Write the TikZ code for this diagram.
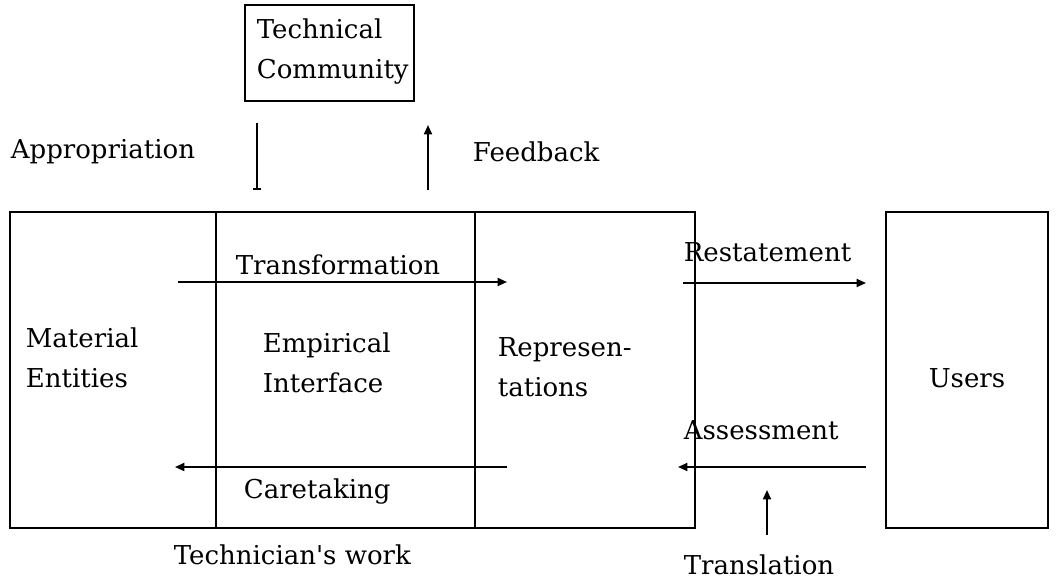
\documentclass[tikz,border=0pt]{standalone}
\usepackage{fontspec}
\setmainfont{DejaVu Serif}
\usetikzlibrary{positioning, arrows.meta}

\begin{document}
\begin{tikzpicture}[x=0.75pt, y=-0.75pt, line width=1.3pt,
    font=\fontsize{19.5}{30}\selectfont,
    box/.style={draw, align=left, inner sep=0pt},
    lbl/.style={anchor=west, align=left, inner sep=0pt},
    arr/.style={-{Triangle[length=7pt, width=6pt]}}]
            \useasboundingbox (0,0) rectangle (1058,582);
            % boxes
            \node[box, minimum width=126.75pt, minimum height=72pt] (tc) at (329.5,53) {};
            \node[box, minimum width=513.75pt, minimum height=237pt] (work) at (352.5,370) {};
            \node[box, minimum width=121.5pt, minimum height=237pt] (users) at (967,370) {};
            \draw (216,212) -- (216,528);
            \draw (475,212) -- (475,528);
            % labels
            \node[lbl] (tclbl) at (256,52) {Technical\\Community};
            \node (userslbl) at (967,378) {Users};
            \node[lbl] (appr) at (10,152) {Appropriation};
            \node[lbl] (feed) at (472,152) {Feedback};
            \node[lbl] (transf) at (235,265) {Transformation};
            \node[lbl] (mat) at (25,358) {Material\\Entities};
            \node[lbl] (emp) at (262,363) {Empirical\\Interface};
            \node[lbl] (repr) at (497,367) {Represen-\\tations};
            \node[lbl] (care) at (243,492) {Caretaking};
            \node[lbl] (rest) at (683,252) {Restatement};
            \node[lbl] (asse) at (683,430) {Assessment};
            \node[lbl] (transl) at (683,565) {Translation};
            \node[lbl] (tech) at (173,555) {Technician\textquotesingle s work};
            % arrow ends
            \coordinate (ap1) at (257,123);
            \coordinate (ap2) at (257,190);
            \coordinate (fb1) at (428,190);
            \coordinate (fb2) at (428,125);
            \coordinate (tr1) at (178,282);
            \coordinate (tr2) at (507,282);
            \coordinate (ca1) at (507,467);
            \coordinate (ca2) at (175,467);
            \coordinate (re1) at (683,283);
            \coordinate (re2) at (866,283);
            \coordinate (as1) at (866,467);
            \coordinate (as2) at (678,467);
            \coordinate (tl1) at (767,535);
            \coordinate (tl2) at (767,490);
            \draw[-{Bar[width=6pt]}] (ap1) -- (ap2);
            \draw[arr] (fb1) -- (fb2);
            \draw[arr] (tr1) -- (tr2);
            \draw[arr] (ca1) -- (ca2);
            \draw[arr] (re1) -- (re2);
            \draw[arr] (as1) -- (as2);
            \draw[arr] (tl1) -- (tl2);
        \end{tikzpicture}
\end{document}
